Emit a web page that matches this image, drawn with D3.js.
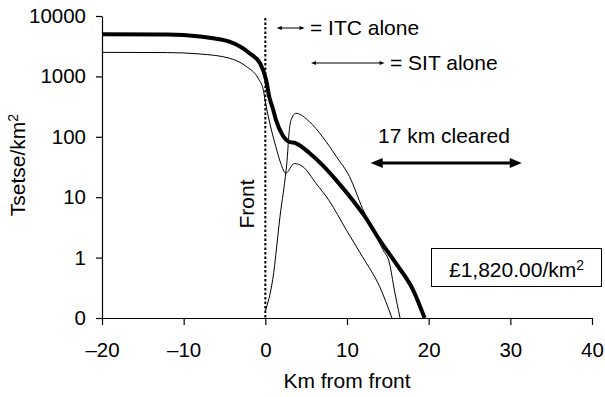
<!DOCTYPE html>
<html>
<head>
<meta charset="utf-8">
<script src="https://cdn.jsdelivr.net/npm/d3@7"></script>
<style>
  body { margin: 0; background: #fff; }
  svg { display: block; font-family: "Liberation Sans", Arial, Helvetica, sans-serif; }
</style>
</head>
<body>
<div id="chart"></div>
<script>
// x ticks and y ticks (log scale, bottom "0" sits at one tenth)
const xTicks = [-20, -10, 0, 10, 20, 30, 40];
const yTicks = [0.1, 1, 10, 100, 1000, 10000];

// combined (thick) curve
const bothKm = [-20, -12, -8, -4.4, -1.9, -0.65, 0.1, 0.5, 0.9, 1.3, 2.1, 2.9, 3.75, 5.4, 7.0, 8.7, 10.7, 12.1, 14.0, 16.0, 18.1, 19.5];
const bothTsetse = [5000, 4950, 4560, 3750, 2400, 1650, 870, 450, 300, 190, 107, 83, 78, 54, 34, 19, 8.9, 5.0, 1.95, 0.8, 0.29, 0.1];

// ITC alone (lower thin curve)
const itcKm = [-20, -12, -8, -4.4, -2.3, -0.9, -0.24, 0, 0.37, 1.28, 1.9, 2.5, 3.55, 4.6, 6.2, 7.8, 9.9, 11.9, 14.0, 15.5];
const itcTsetse = [2500, 2480, 2350, 2000, 1450, 940, 590, 380, 214, 69, 36, 25, 36, 32, 17, 8.8, 2.9, 1.03, 0.33, 0.1];

// SIT alone (thin curve rising from the front)
const sitKm = [0, 0.9, 1.9, 2.3, 2.7, 2.9, 3.15, 3.75, 5.4, 7.0, 8.7, 10.3, 11.9, 14.4, 15.2, 15.8, 16.5];
const sitTsetse = [0.13, 0.43, 6.2, 15, 47, 115, 190, 245, 178, 100, 47, 22, 6.5, 1.35, 0.81, 0.29, 0.1];

const W = 605, H = 397;
const M = {top: 16, right: 13, bottom: 79, left: 102};
const TICK_FONT = 20.5;
const FONT = 21;

const svg = d3.select('#chart').append('svg')
    .attr('width', W)
    .attr('height', H);

const x = d3.scaleLinear().domain([-20, 40]).range([M.left, W - M.right]);
const y = d3.scaleLog().domain([0.1, 10000]).range([H - M.bottom, M.top]);

// axes
const yAxis = svg.append('g')
    .attr('transform', `translate(${M.left},0)`)
    .call(d3.axisLeft(y).tickValues(yTicks).tickSize(6).tickSizeOuter(0).tickPadding(10)
        .tickFormat(d => d < 1 ? '0' : String(d)));

const xAxis = svg.append('g')
    .attr('transform', `translate(0,${H - M.bottom})`)
    .call(d3.axisBottom(x).tickValues(xTicks).tickSize(7).tickSizeOuter(0).tickPadding(17)
        .tickFormat(d => d < 0 ? '\u2013' + Math.abs(d) : String(d)));

[yAxis, xAxis].forEach(a => {
    a.selectAll('text').attr('font-size', TICK_FONT).attr('fill', '#000')
        .attr('font-family', '"Liberation Sans", Arial, Helvetica, sans-serif');
    a.selectAll('line').attr('stroke', '#000').attr('stroke-width', 1.2);
    a.select('.domain').attr('stroke', '#000').attr('stroke-width', 1.2);
});

// front line
svg.append('line')
    .attr('x1', x(0)).attr('x2', x(0))
    .attr('y1', M.top + 2).attr('y2', H - M.bottom)
    .attr('stroke', '#000')
    .attr('stroke-width', 2)
    .attr('stroke-dasharray', '2.5,2');

svg.append('text')
    .attr('transform', `translate(${x(0) - 11},${204}) rotate(-90)`)
    .attr('text-anchor', 'middle')
    .attr('font-size', FONT)
    .text('Front');

// curves
const line = d3.line()
    .x(d => x(d[0]))
    .y(d => y(d[1]))
    .curve(d3.curveMonotoneX);

const series = [
    {km: itcKm, val: itcTsetse, w: 1},
    {km: sitKm, val: sitTsetse, w: 1},
    {km: bothKm, val: bothTsetse, w: 4}
];
series.forEach(s => {
    svg.append('path')
        .datum(s.km.map((k, i) => [k, s.val[i]]))
        .attr('fill', 'none')
        .attr('stroke', '#000')
        .attr('stroke-width', s.w)
        .attr('stroke-linejoin', 'round')
        .attr('d', line);
});

// double arrow helper
function doubleArrow(x1, x2, yy, w, headLen, headHalf) {
    const g = svg.append('g');
    g.append('line')
        .attr('x1', x1 + headLen * 0.6).attr('x2', x2 - headLen * 0.6)
        .attr('y1', yy).attr('y2', yy)
        .attr('stroke', '#000').attr('stroke-width', w);
    g.append('path')
        .attr('d', `M${x1},${yy}L${x1 + headLen},${yy - headHalf}L${x1 + headLen},${yy + headHalf}Z`)
        .attr('fill', '#000');
    g.append('path')
        .attr('d', `M${x2},${yy}L${x2 - headLen},${yy - headHalf}L${x2 - headLen},${yy + headHalf}Z`)
        .attr('fill', '#000');
}

// legend
doubleArrow(x(1.4), x(4.8), 28, 1, 5, 2);
svg.append('text').attr('x', 310).attr('y', 35).attr('font-size', FONT).text('= ITC alone');
doubleArrow(x(5.6), x(14.6), 63, 1, 5, 2);
svg.append('text').attr('x', 390).attr('y', 70).attr('font-size', FONT).text('= SIT alone');

// cleared distance
svg.append('text').attr('x', 378).attr('y', 143).attr('font-size', FONT).text('17 km cleared');
doubleArrow(x(12.9), x(31.4), 163, 3, 12, 5);

// cost box
svg.append('rect')
    .attr('x', 431.5).attr('y', 248.5)
    .attr('width', 170).attr('height', 38)
    .attr('fill', 'none').attr('stroke', '#000').attr('stroke-width', 1);
const cost = svg.append('text')
    .attr('x', 516.5).attr('y', 277)
    .attr('text-anchor', 'middle')
    .attr('font-size', FONT);
cost.append('tspan').text('\u00a31,820.00/km');
cost.append('tspan').attr('font-size', 14).attr('dy', -7).text('2');

// axis titles
const yt = svg.append('text')
    .attr('transform', `translate(25,165) rotate(-90)`)
    .attr('text-anchor', 'middle')
    .attr('font-size', FONT);
yt.append('tspan').text('Tsetse/km');
yt.append('tspan').attr('font-size', 14).attr('dy', -7).text('2');

svg.append('text')
    .attr('x', x(10)).attr('y', 388)
    .attr('text-anchor', 'middle')
    .attr('font-size', FONT)
    .text('Km from front');
</script>
</body>
</html>
